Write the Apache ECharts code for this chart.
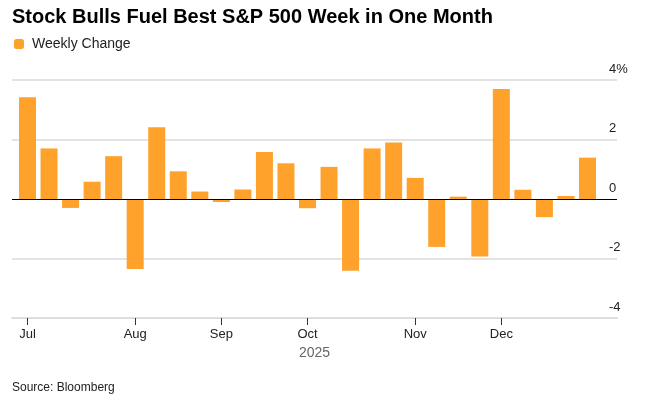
<!DOCTYPE html>
<html>
<head>
<meta charset="utf-8">
<script src="https://cdn.jsdelivr.net/npm/echarts@6/dist/echarts.min.js"></script>
<style>
  html, body { margin: 0; padding: 0; background: #fff; }
  #chart { width: 657px; height: 397px; }
</style>
</head>
<body>
<div id="chart"></div>
<script>
// week-ending dates
const weeks = ['Jun 27', 'Jul 3', 'Jul 11', 'Jul 18', 'Jul 25', 'Aug 1', 'Aug 8', 'Aug 15', 'Aug 22',
  'Aug 29', 'Sep 5', 'Sep 12', 'Sep 19', 'Sep 26', 'Oct 3', 'Oct 10', 'Oct 17', 'Oct 24', 'Oct 31',
  'Nov 7', 'Nov 14', 'Nov 21', 'Nov 28', 'Dec 5', 'Dec 12', 'Dec 19', 'Dec 26']
// weekly change, %
const weeklyChange = [3.42, 1.70, -0.30, 0.58, 1.44, -2.35, 2.41, 0.93, 0.25, -0.10, 0.32, 1.58, 1.20,
  -0.31, 1.08, -2.41, 1.70, 1.90, 0.71, -1.61, 0.08, -1.93, 3.70, 0.31, -0.61, 0.10, 1.39]
// month labels and the week index they sit on
const monthLabels = ['Jul', 'Aug', 'Sep', 'Oct', 'Nov', 'Dec']
const monthWeekIdx = [0, 5, 9, 13, 18, 22]
const yTicks = [-4, -2, 0, 2, 4]

const FONT = 'Liberation Sans, Arial, sans-serif'
const ORANGE = '#ffa22c'

let barData = weeklyChange.map((v, i) => [i, v])

let chart = echarts.init(document.getElementById('chart'))
let option = {
  animation: false,
  textStyle: { fontFamily: FONT },
  title: {
    text: 'Stock Bulls Fuel Best S&P 500 Week in One Month',
    left: 12,
    top: 7,
    padding: 0,
    textStyle: { fontSize: 20, fontWeight: 'bold', color: '#000', fontFamily: FONT }
  },
  legend: {
    left: 14,
    top: 37,
    padding: 0,
    icon: 'roundRect',
    itemWidth: 10,
    itemHeight: 10,
    itemGap: 8,
    textStyle: { fontSize: 14, color: '#222', fontFamily: FONT, padding: [0, 0, 0, 3] },
    data: ['Weekly Change']
  },
  grid: { left: 12, right: 40, top: 80, bottom: 79 },
  xAxis: {
    type: 'value',
    min: -0.72,
    max: 27.37,
    name: '2025',
    nameLocation: 'middle',
    nameGap: 27,
    nameTextStyle: { fontSize: 14, color: '#666', fontFamily: FONT },
    axisLine: { show: true, onZero: false, lineStyle: { color: '#dedede', width: 2 } },
    splitLine: { show: false },
    axisTick: {
      show: true,
      customValues: monthWeekIdx,
      length: 7,
      lineStyle: { color: '#333', width: 1 }
    },
    axisLabel: {
      customValues: monthWeekIdx,
      margin: 10,
      fontSize: 13,
      color: '#222',
      fontFamily: FONT,
      formatter: function (v) {
        let k = monthWeekIdx.indexOf(Math.round(v))
        return k >= 0 ? monthLabels[k] : ''
      }
    }
  },
  yAxis: {
    type: 'value',
    position: 'right',
    min: -4,
    max: 4,
    interval: 2,
    axisLine: { show: false },
    axisTick: { show: false },
    splitLine: {
      lineStyle: {
        color: yTicks.map(v => (v === 0 ? 'rgba(0,0,0,0)' : '#e3e3e3')),
        width: 2
      }
    },
    axisLabel: {
      margin: -8,
      align: 'left',
      verticalAlign: 'bottom',
      lineHeight: 14,
      padding: [0, 0, 4, 0],
      fontSize: 13,
      color: '#222',
      fontFamily: FONT,
      formatter: function (v) {
        return v === 4 ? '4%' : String(v)
      }
    }
  },
  series: [
    {
      name: 'Weekly Change',
      type: 'bar',
      barWidth: 17,
      itemStyle: { color: ORANGE },
      data: barData,
      markLine: {
        silent: true,
        symbol: 'none',
        label: { show: false },
        lineStyle: { color: '#000', width: 1, type: 'solid' },
        data: [{ yAxis: 0 }]
      }
    }
  ],
  graphic: [
    {
      type: 'text',
      left: 12,
      top: 382,
      style: { text: 'Source: Bloomberg', fontSize: 12, fill: '#222', fontFamily: FONT }
    }
  ]
}
chart.setOption(option)
</script>
</body>
</html>
